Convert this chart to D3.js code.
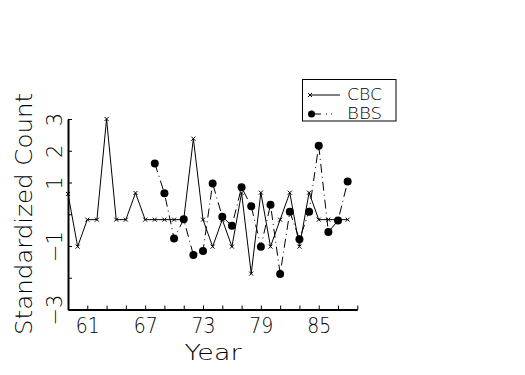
<!DOCTYPE html>
<html>
<head>
<meta charset="utf-8">
<script src="https://cdn.jsdelivr.net/npm/d3@7"></script>
<style>
  body { margin: 0; background: #fff; }
  text { font-family: "DejaVu Sans", "Liberation Sans", sans-serif; font-weight: 200; fill: #000; }
</style>
</head>
<body>
<svg id="chart" width="525" height="375"></svg>
<script>
// years covered by each survey
const cbcYears = d3.range(59, 89);
const bbsYears = d3.range(68, 89);

// standardized counts
const cbcValues = [0.64, -1.02, -0.17, -0.17, 3.0, -0.17, -0.17, 0.67, -0.17, -0.17,
  -0.17, -0.17, -0.17, 2.38, -0.17, -1.02, -0.17, -1.02, 0.67, -1.87,
  0.68, -1.02, -0.17, 0.68, -1.02, 0.68, -0.17, -0.17, -0.17, -0.17];
const bbsValues = [1.60, 0.66, -0.76, -0.16, -1.28, -1.16, 0.97, -0.08, -0.36, 0.85,
  0.25, -1.02, 0.30, -1.88, 0.08, -0.79, 0.08, 2.16, -0.56, -0.20, 1.03];

const xTicks = d3.range(59, 90, 2);
const xTickLabels = [61, 67, 73, 79, 85];
const yTicks = d3.range(-3, 4);
const yTickLabels = [3, 2, 1, -1, -3];
const seriesNames = ['CBC', 'BBS'];

const svg = d3.select('#chart');
const x = d3.scaleLinear().domain([59, 89]).range([68, 357.3]);
const y = d3.scaleLinear().domain([-3, 3]).range([309.5, 119]);

const cbc = cbcYears.map((yr, i) => ({ year: yr, value: cbcValues[i] }));
const bbs = bbsYears.map((yr, i) => ({ year: yr, value: bbsValues[i] }));

const line = d3.line().x((d) => x(d.year)).y((d) => y(d.value));
const crossPath = 'M-2,-2L2,2M-2,2L2,-2';
const bbsDash = '9,4,1,4';

// x axis, ticks pointing inward
const xAxis = svg.append('g')
  .attr('transform', `translate(0,${y(-3)})`)
  .call(d3.axisBottom(x)
    .tickValues(xTicks)
    .tickSize(-4)
    .tickSizeOuter(0)
    .tickFormat((d) => xTickLabels.includes(d) ? String(d) : ''));
xAxis.select('.domain').attr('stroke-width', 2);
xAxis.selectAll('.tick line').attr('stroke-width', 1);
xAxis.selectAll('.tick text')
  .attr('y', 23).attr('dy', 0)
  .style('font-size', '22px')
  .attr('textLength', (d) => xTickLabels.includes(d) ? 24 : null)
  .attr('lengthAdjust', 'spacingAndGlyphs');

// y axis, labels rotated
const yAxis = svg.append('g')
  .attr('transform', `translate(${x(59)},0)`)
  .call(d3.axisLeft(y)
    .tickValues(yTicks)
    .tickSize(-4)
    .tickSizeOuter(0)
    .tickFormat((d) => yTickLabels.includes(d) ? (d < 0 ? '\u2212' + Math.abs(d) : String(d)) : ''));
yAxis.select('.domain').attr('stroke-width', 2);
yAxis.selectAll('.tick line').attr('stroke-width', 1);
yAxis.selectAll('.tick text')
  .attr('x', 0).attr('y', -6).attr('dy', 0)
  .attr('transform', 'rotate(-90)')
  .style('text-anchor', 'middle')
  .style('font-size', '21px');

// axis titles
svg.append('text')
  .attr('x', 213).attr('y', 360)
  .style('text-anchor', 'middle')
  .style('font-size', '21px')
  .attr('textLength', 57).attr('lengthAdjust', 'spacingAndGlyphs')
  .text('Year');
svg.append('text')
  .attr('transform', 'translate(32,214) rotate(-90)')
  .style('text-anchor', 'middle')
  .style('font-size', '23px')
  .attr('textLength', 242).attr('lengthAdjust', 'spacingAndGlyphs')
  .text('Standardized Count');

// CBC series
svg.append('path')
  .datum(cbc)
  .attr('d', line)
  .attr('fill', 'none')
  .attr('stroke', '#000')
  .attr('stroke-width', 1);
svg.selectAll('.cbc-mark')
  .data(cbc)
  .enter().append('path')
  .attr('class', 'cbc-mark')
  .attr('transform', (d) => `translate(${x(d.year)},${y(d.value)})`)
  .attr('d', crossPath)
  .attr('stroke', '#000')
  .attr('stroke-width', 1);

// BBS series
svg.append('path')
  .datum(bbs)
  .attr('d', line)
  .attr('fill', 'none')
  .attr('stroke', '#000')
  .attr('stroke-width', 1)
  .attr('stroke-dasharray', bbsDash);
svg.selectAll('.bbs-mark')
  .data(bbs)
  .enter().append('circle')
  .attr('class', 'bbs-mark')
  .attr('cx', (d) => x(d.year))
  .attr('cy', (d) => y(d.value))
  .attr('r', 4)
  .attr('fill', '#000');

// legend
const legend = svg.append('g');
legend.append('rect')
  .attr('x', 302.5).attr('y', 79.5)
  .attr('width', 93.5).attr('height', 41.5)
  .attr('fill', '#fff').attr('stroke', '#000').attr('stroke-width', 1);
seriesNames.forEach((name, i) => {
  const ly = 95 + i * 19;
  legend.append('line')
    .attr('x1', 310).attr('x2', 340).attr('y1', ly).attr('y2', ly)
    .attr('stroke', '#000').attr('stroke-width', 1)
    .attr('stroke-dasharray', i === 1 ? '11,5,1,4,1,20' : null);
  if (i === 0) {
    legend.append('path')
      .attr('transform', `translate(310,${ly})`)
      .attr('d', crossPath)
      .attr('stroke', '#000');
  } else {
    legend.append('circle')
      .attr('cx', 311.5).attr('cy', ly).attr('r', 3.5).attr('fill', '#000');
  }
  legend.append('text')
    .attr('x', 347).attr('y', ly + 5)
    .style('font-size', '15px')
    .attr('textLength', 35).attr('lengthAdjust', 'spacingAndGlyphs')
    .text(name);
});
</script>
</body>
</html>
